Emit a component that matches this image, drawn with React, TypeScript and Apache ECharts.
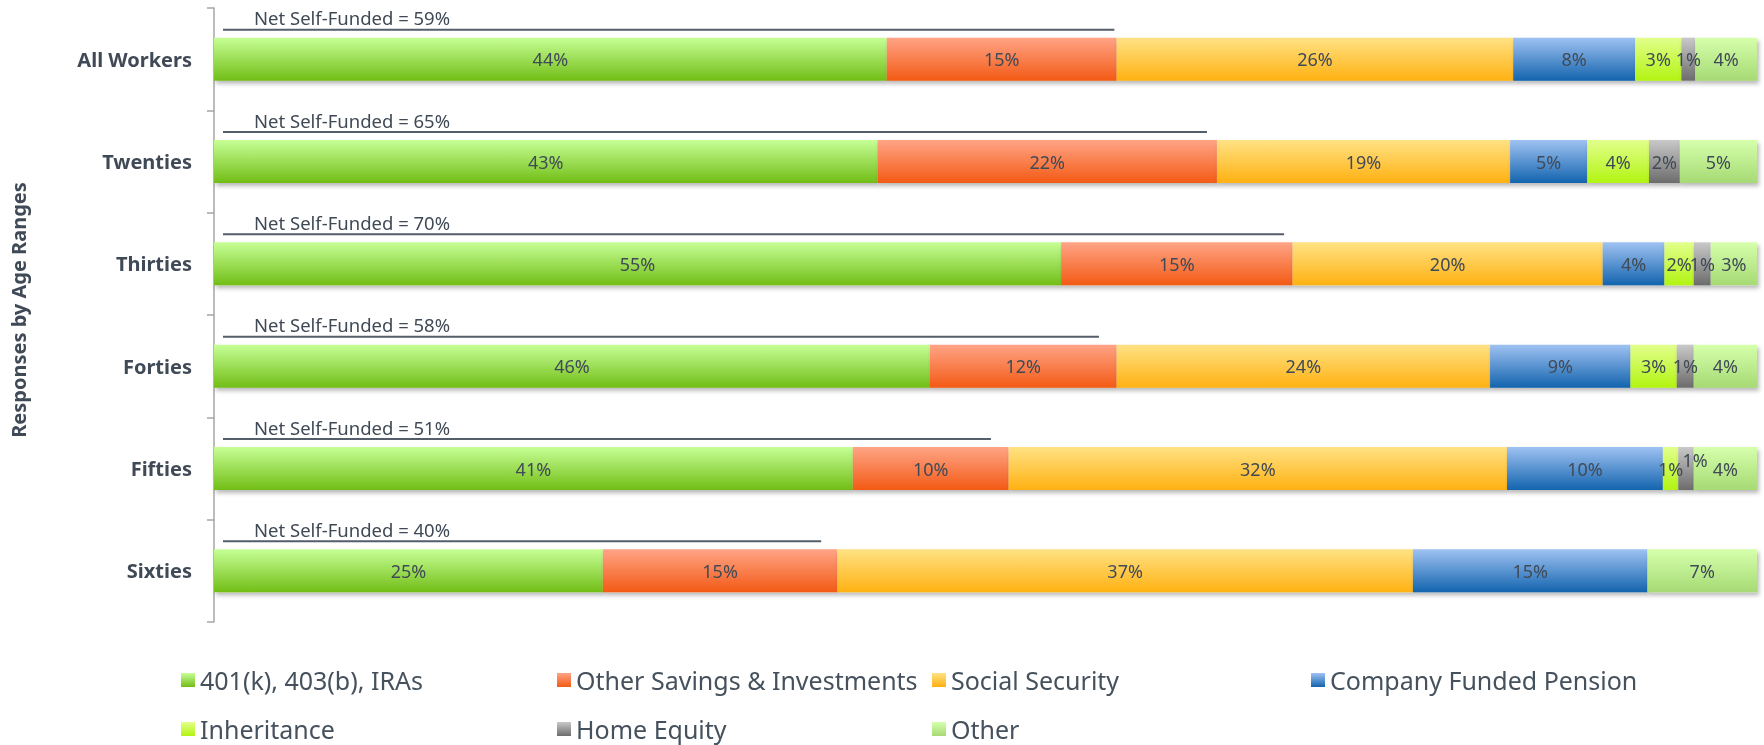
import React, { useEffect, useRef } from "react";
import * as echarts from "echarts";

const categories = ["All Workers", "Twenties", "Thirties", "Forties", "Fifties", "Sixties"];
const seriesNames = [
  "401(k), 403(b), IRAs",
  "Other Savings & Investments",
  "Social Security",
  "Company Funded Pension",
  "Inheritance",
  "Home Equity",
  "Other",
];
const retirementPlans = [43.6, 43.0, 54.9, 46.4, 41.4, 25.2];
const otherSavings = [14.9, 22.0, 15.0, 12.1, 10.1, 15.2];
const socialSecurity = [25.7, 19.0, 20.1, 24.2, 32.3, 37.3];
const companyPension = [7.9, 5.0, 4.0, 9.1, 10.1, 15.2];
const inheritance = [3.0, 4.0, 1.9, 3.0, 1.0, 0];
const homeEquity = [0.9, 2.0, 1.1, 1.1, 1.0, 0];
const otherSource = [4.0, 5.0, 3.0, 4.1, 4.1, 7.1];
const netSelfFunded = [59, 65, 70, 58, 51, 40];

const seriesValues = [
  retirementPlans,
  otherSavings,
  socialSecurity,
  companyPension,
  inheritance,
  homeEquity,
  otherSource,
];

const gradients: [string, string][] = [
  ["#c6ff96", "#72bd16"],
  ["#ffa486", "#f35a15"],
  ["#ffe284", "#ffb112"],
  ["#9fc2f2", "#1364ae"],
  ["#e2ff8c", "#b2f412"],
  ["#c9c9c9", "#6c6c6c"],
  ["#d6ffac", "#a6da74"],
];

const FONT = "'Noto Sans', 'DejaVu Sans', sans-serif";
const TEXT = "#404a56";
const BAR_W = 43;

const legendPos: [number, number][] = [
  [181, 667],
  [557, 667],
  [932, 667],
  [1311, 667],
  [181, 716],
  [557, 716],
  [932, 716],
];

export default function App() {
  const ref = useRef<HTMLDivElement>(null);
  useEffect(() => {
    if (!ref.current) return;
    const chart = echarts.init(ref.current, undefined, { renderer: "svg" });
    const barSeries = seriesNames.map((name, si) => ({
      name,
      type: "bar",
      stack: "total",
      barWidth: BAR_W,
      data: seriesValues[si].map((v, i) =>
        si === 5 && i === 4 ? { value: v, label: { offset: [9, -9] } } : v
      ),
      itemStyle: {
        color: new echarts.graphic.LinearGradient(0, 0, 0, 1, [
          { offset: 0, color: gradients[si][0] },
          { offset: 1, color: gradients[si][1] },
        ]),
        shadowColor: "rgba(0,0,0,0.28)",
        shadowBlur: 4,
        shadowOffsetX: 2,
        shadowOffsetY: 3,
      },
      label: {
        show: true,
        position: "inside",
        color: TEXT,
        fontFamily: FONT,
        fontSize: 18,
        formatter: (p: any) => {
          const v = typeof p.value === "number" ? p.value : p.value?.value;
          return v > 0 ? Math.round(v) + "%" : "";
        },
      },
    }));

    const netSeries = {
      type: "custom",
      name: "net",
      data: netSelfFunded.map((v, i) => [v, i]),
      encode: { x: 0, y: 1 },
      z: 5,
      renderItem: (params: any, api: any) => {
        const p = api.coord([api.value(0), api.value(1)]);
        const p0 = api.coord([0, api.value(1)]);
        const lineY = p[1] - BAR_W / 2 - 8;
        return {
          type: "group",
          children: [
            {
              type: "line",
              shape: { x1: p0[0] + 9, y1: lineY, x2: p[0] - 10, y2: lineY },
              style: { stroke: "#545e6a", lineWidth: 2 },
            },
            {
              type: "text",
              x: p0[0] + 40,
              y: lineY - 12,
              style: {
                text: "Net Self-Funded = " + api.value(0) + "%",
                fill: TEXT,
                font: `18.5px ${FONT}`,
                verticalAlign: "middle",
                align: "left",
              },
            },
          ],
        };
      },
    };

    const legends = seriesNames.map((name, i) => ({
      data: [name],
      left: legendPos[i][0],
      top: legendPos[i][1],
      padding: 0,
      icon: "rect",
      itemWidth: 14,
      itemHeight: 14,
      itemGap: 6,
      selectedMode: false,
      textStyle: {
        fontSize: 25,
        lineHeight: 26,
        color: "#45515d",
        fontFamily: FONT,
        padding: [0, 0, 0, 0],
      },
    }));

    chart.setOption({
      animation: false,
      textStyle: { fontFamily: FONT },
      grid: { left: 214, right: 7, top: 8, bottom: 123, containLabel: false },
      legend: legends,
      xAxis: { type: "value", min: 0, max: 100, show: false },
      yAxis: {
        type: "category",
        data: categories,
        inverse: true,
        name: "Responses by Age Ranges",
        nameLocation: "middle",
        nameGap: 186,
        nameTextStyle: {
          fontSize: 20,
          fontWeight: "bold",
          color: TEXT,
          fontFamily: FONT,
          padding: [0, 0, 0, 10],
        },
        axisLine: { show: true, lineStyle: { color: "#a6a6a6", width: 1.5 } },
        axisTick: { show: true, length: 7, lineStyle: { color: "#a6a6a6", width: 1.5 } },
        axisLabel: { fontSize: 20, fontWeight: "bold", color: TEXT, fontFamily: FONT, margin: 22 },
        splitLine: { show: false },
      },
      series: [...barSeries, netSeries],
    });
    return () => chart.dispose();
  }, []);
  return (
    <div
      ref={ref}
      style={{ position: "fixed", left: 0, top: 0, width: 1764, height: 745 }}
    />
  );
}
